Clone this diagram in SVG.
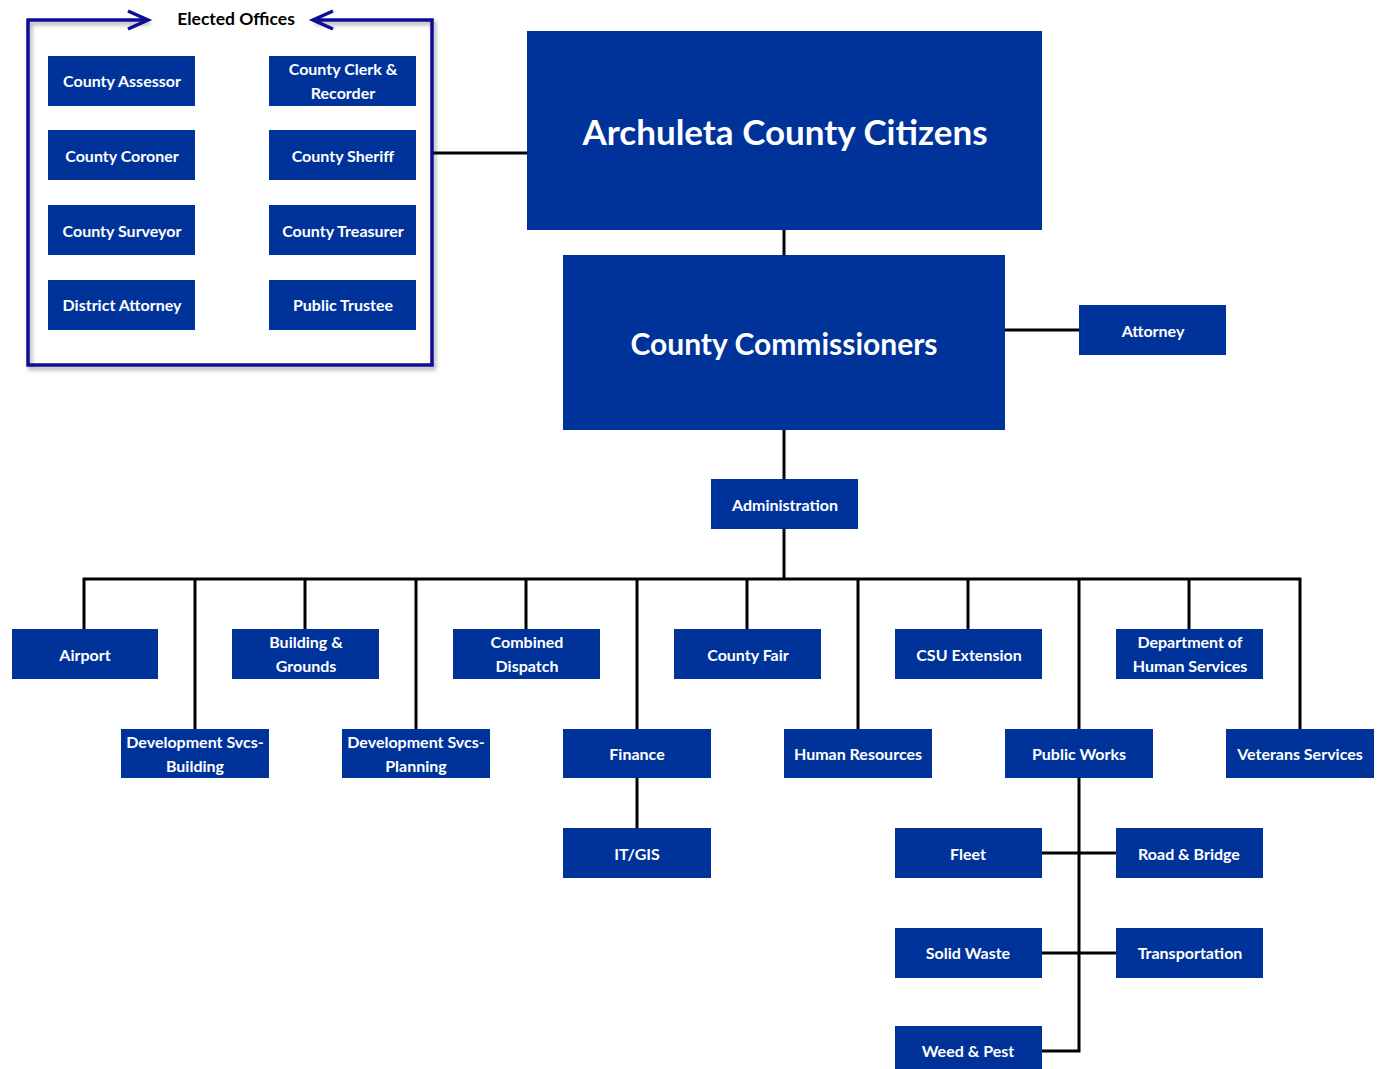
<svg xmlns="http://www.w3.org/2000/svg" width="1384" height="1069" viewBox="0 0 1384 1069">
<style>
.b{fill:#003399}
.t{font-family:Lato,"Liberation Sans",sans-serif;font-weight:bold;font-size:16px;fill:#fff;text-anchor:middle}
.big{font-family:Lato,"Liberation Sans",sans-serif;font-weight:bold;fill:#fff;text-anchor:middle}
.c{stroke:#000;stroke-width:3;fill:none}
.f{stroke:#0d0d96;stroke-width:3.5;fill:none}
</style>
<defs>
<filter id="sh" x="-5%" y="-5%" width="110%" height="110%">
<feDropShadow dx="2" dy="3" stdDeviation="2" flood-color="#000" flood-opacity="0.35"/>
</filter>
</defs>
<g id="connectors">
<line class="c" x1="433" y1="153" x2="527" y2="153"/>
<line class="c" x1="784" y1="230" x2="784" y2="255"/>
<line class="c" x1="1005" y1="330" x2="1079" y2="330"/>
<line class="c" x1="784" y1="430" x2="784" y2="479"/>
<line class="c" x1="784" y1="529" x2="784" y2="579"/>
<polyline class="c" points="84,629 84,579 1300,579 1300,729"/>
<line class="c" x1="195" y1="579" x2="195" y2="729"/>
<line class="c" x1="305" y1="579" x2="305" y2="629"/>
<line class="c" x1="416" y1="579" x2="416" y2="729"/>
<line class="c" x1="526" y1="579" x2="526" y2="629"/>
<line class="c" x1="637" y1="579" x2="637" y2="729"/>
<line class="c" x1="747" y1="579" x2="747" y2="629"/>
<line class="c" x1="858" y1="579" x2="858" y2="729"/>
<line class="c" x1="968" y1="579" x2="968" y2="629"/>
<line class="c" x1="1079" y1="579" x2="1079" y2="729"/>
<line class="c" x1="1189" y1="579" x2="1189" y2="629"/>
<line class="c" x1="637" y1="778" x2="637" y2="828"/>
<polyline class="c" points="1079,778 1079,1051 1042,1051"/>
<line class="c" x1="1042" y1="853" x2="1116" y2="853"/>
<line class="c" x1="1042" y1="953" x2="1116" y2="953"/>
</g>
<g id="elected-offices">
<path class="f" filter="url(#sh)" d="M148,20 L28,20 L28,365 L432,365 L432,20 L313,20"/>
<polyline class="f" points="128,11 148,20 128,29"/>
<polyline class="f" points="333,11 313,20 333,29"/>
<text x="236" y="25" font-family="Lato,'Liberation Sans',sans-serif" font-weight="bold" font-size="17.5" fill="#000" text-anchor="middle">Elected Offices</text>
</g>
<g id="county-assessor"><rect class="b" x="48" y="56" width="147" height="50"/><text class="t" x="122" y="87">County Assessor</text></g>
<g id="county-clerk"><rect class="b" x="269" y="56" width="147" height="50"/><text class="t" x="343" y="75">County Clerk &amp;</text><text class="t" x="343" y="99">Recorder</text></g>
<g id="county-coroner"><rect class="b" x="48" y="130" width="147" height="50"/><text class="t" x="122" y="162">County Coroner</text></g>
<g id="county-sheriff"><rect class="b" x="269" y="130" width="147" height="50"/><text class="t" x="343" y="162">County Sheriff</text></g>
<g id="county-surveyor"><rect class="b" x="48" y="205" width="147" height="50"/><text class="t" x="122" y="237">County Surveyor</text></g>
<g id="county-treasurer"><rect class="b" x="269" y="205" width="147" height="50"/><text class="t" x="343" y="237">County Treasurer</text></g>
<g id="district-attorney"><rect class="b" x="48" y="280" width="147" height="50"/><text class="t" x="122" y="311">District Attorney</text></g>
<g id="public-trustee"><rect class="b" x="269" y="280" width="147" height="50"/><text class="t" x="343" y="311">Public Trustee</text></g>
<g id="citizens"><rect class="b" x="527" y="31" width="515" height="199"/><text class="big" x="785" y="145" font-size="35">Archuleta County Citizens</text></g>
<g id="commissioners"><rect class="b" x="563" y="255" width="442" height="175"/><text class="big" x="784" y="355" font-size="30">County Commissioners</text></g>
<g id="attorney"><rect class="b" x="1079" y="305" width="147" height="50"/><text class="t" x="1153" y="337">Attorney</text></g>
<g id="administration"><rect class="b" x="711" y="479" width="147" height="50"/><text class="t" x="785" y="511">Administration</text></g>
<g id="airport"><rect class="b" x="12" y="629" width="146" height="50"/><text class="t" x="85" y="661">Airport</text></g>
<g id="building-grounds"><rect class="b" x="232" y="629" width="147" height="50"/><text class="t" x="306" y="648">Building &amp;</text><text class="t" x="306" y="672">Grounds</text></g>
<g id="combined-dispatch"><rect class="b" x="453" y="629" width="147" height="50"/><text class="t" x="527" y="648">Combined</text><text class="t" x="527" y="672">Dispatch</text></g>
<g id="county-fair"><rect class="b" x="674" y="629" width="147" height="50"/><text class="t" x="748" y="661">County Fair</text></g>
<g id="csu-extension"><rect class="b" x="895" y="629" width="147" height="50"/><text class="t" x="969" y="661">CSU Extension</text></g>
<g id="dhs"><rect class="b" x="1116" y="629" width="147" height="50"/><text class="t" x="1190" y="648">Department of</text><text class="t" x="1190" y="672">Human Services</text></g>
<g id="dev-building"><rect class="b" x="121" y="729" width="148" height="49"/><text class="t" x="195" y="748">Development Svcs-</text><text class="t" x="195" y="772">Building</text></g>
<g id="dev-planning"><rect class="b" x="342" y="729" width="148" height="49"/><text class="t" x="416" y="748">Development Svcs-</text><text class="t" x="416" y="772">Planning</text></g>
<g id="finance"><rect class="b" x="563" y="729" width="148" height="49"/><text class="t" x="637" y="760">Finance</text></g>
<g id="human-resources"><rect class="b" x="784" y="729" width="148" height="49"/><text class="t" x="858" y="760">Human Resources</text></g>
<g id="public-works"><rect class="b" x="1005" y="729" width="148" height="49"/><text class="t" x="1079" y="760">Public Works</text></g>
<g id="veterans"><rect class="b" x="1226" y="729" width="148" height="49"/><text class="t" x="1300" y="760">Veterans Services</text></g>
<g id="it-gis"><rect class="b" x="563" y="828" width="148" height="50"/><text class="t" x="637" y="860">IT/GIS</text></g>
<g id="fleet"><rect class="b" x="895" y="828" width="147" height="50"/><text class="t" x="968" y="860">Fleet</text></g>
<g id="road-bridge"><rect class="b" x="1116" y="828" width="147" height="50"/><text class="t" x="1189" y="860">Road &amp; Bridge</text></g>
<g id="solid-waste"><rect class="b" x="895" y="928" width="147" height="50"/><text class="t" x="968" y="959">Solid Waste</text></g>
<g id="transportation"><rect class="b" x="1116" y="928" width="147" height="50"/><text class="t" x="1190" y="959">Transportation</text></g>
<g id="weed-pest"><rect class="b" x="895" y="1026" width="147" height="50"/><text class="t" x="968" y="1057">Weed &amp; Pest</text></g>
</svg>
